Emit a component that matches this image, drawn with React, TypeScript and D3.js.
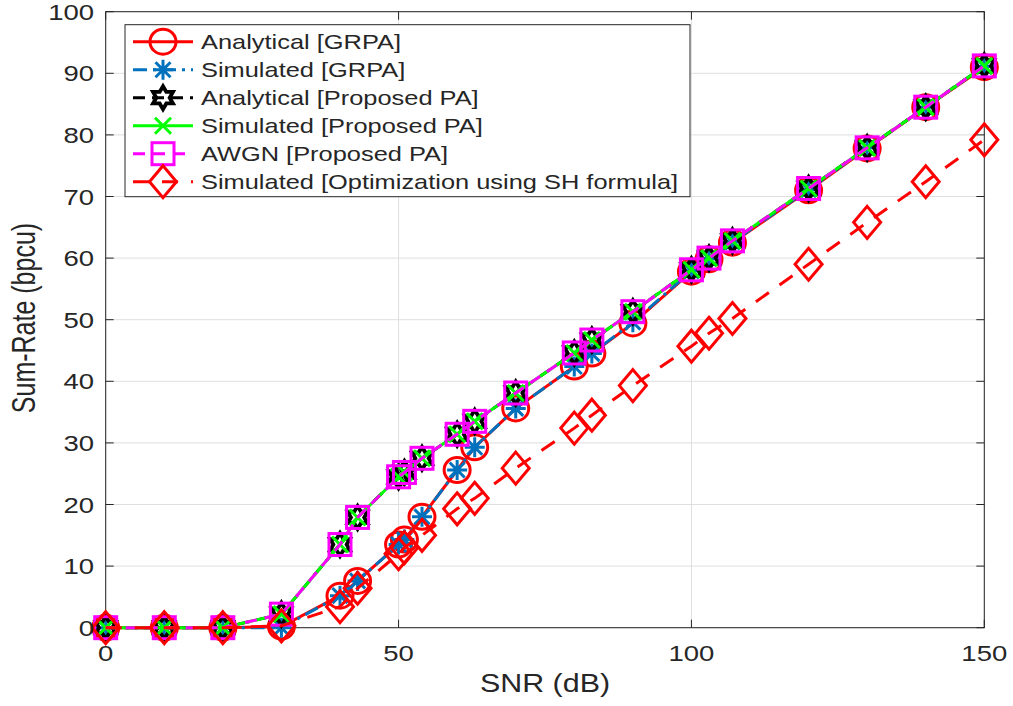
import React from "react";
import * as d3 from "d3";

const SNR = [0, 10, 20, 30, 40, 43, 50, 51, 54, 60, 63, 70, 80, 83, 90, 100, 103, 107, 120, 130, 140, 150];
const GRPA_ANALYTICAL = [0, 0, 0, 0.2, 5.2, 7.6, 13.5, 14.3, 18, 25.6, 29.3, 35.6, 42.4, 44.5, 49.4, 57.8, 59.8, 62.5, 71, 77.8, 84.5, 91];
const GRPA_SIMULATED = [0, 0, 0, 0, 5.2, 7.6, 13.5, 14.3, 18, 25.6, 29.3, 35.6, 42.4, 44.5, 49.6, 57.9, 59.9, 62.6, 71.1, 77.9, 84.5, 91.1];
const PROPOSED_ANALYTICAL = [0, 0, 0, 2.2, 13.5, 17.9, 24.5, 25.2, 27.5, 31.4, 33.5, 38.1, 44.6, 46.7, 51.3, 58.1, 60, 62.8, 71.3, 77.9, 84.5, 91.2];
const PROPOSED_SIMULATED = [0, 0, 0, 2.2, 13.5, 17.9, 24.5, 25.2, 27.5, 31.4, 33.5, 38.1, 44.6, 46.7, 51.3, 58.1, 60, 62.8, 71.3, 77.9, 84.5, 91.2];
const AWGN_PROPOSED = [0, 0, 0, 2.2, 13.5, 17.9, 24.5, 25.2, 27.5, 31.4, 33.5, 38.1, 44.6, 46.7, 51.3, 58.1, 60, 62.8, 71.3, 77.9, 84.5, 91.2];
const SH_OPTIMIZATION = [0, 0, 0, 0.3, 3.4, 6.4, 12, 13, 15, 19.3, 21, 25.9, 32.4, 34.5, 39.3, 45.7, 47.8, 50.2, 59, 65.8, 72.4, 79.2];

const X_TICKS = [0, 50, 100, 150];
const Y_TICKS = [0, 10, 20, 30, 40, 50, 60, 70, 80, 90, 100];
const LEGEND_LABELS = [
  "Analytical [GRPA]",
  "Simulated [GRPA]",
  "Analytical [Proposed PA]",
  "Simulated [Proposed PA]",
  "AWGN [Proposed PA]",
  "Simulated [Optimization using SH formula]",
];

const W = 1013;
const H = 706;
const M = { left: 105.7, right: 984.3, top: 11.7, bottom: 627.7 };
const FONT = "'Liberation Sans', Arial, Helvetica, sans-serif";
const AX = "#262626";

type MarkerKind = "circle" | "asterisk" | "hexagram" | "x" | "square" | "diamond";

interface Series {
  label: string;
  values: number[];
  color: string;
  dash: string | null;
  marker: MarkerKind;
}

const SERIES: Series[] = [
  { label: LEGEND_LABELS[0], values: GRPA_ANALYTICAL, color: "#ff0000", dash: null, marker: "circle" },
  { label: LEGEND_LABELS[1], values: GRPA_SIMULATED, color: "#0072bd", dash: "14,6,3,6", marker: "asterisk" },
  { label: LEGEND_LABELS[2], values: PROPOSED_ANALYTICAL, color: "#000000", dash: "12,7", marker: "hexagram" },
  { label: LEGEND_LABELS[3], values: PROPOSED_SIMULATED, color: "#00ff00", dash: null, marker: "x" },
  { label: LEGEND_LABELS[4], values: AWGN_PROPOSED, color: "#ff00ff", dash: "12,8", marker: "square" },
  { label: LEGEND_LABELS[5], values: SH_OPTIMIZATION, color: "#ff0000", dash: "16,13", marker: "diamond" },
];

function Marker({ kind, x, y, color }: { kind: MarkerKind; x: number; y: number; color: string }) {
  const sw = 3;
  if (kind === "circle") {
    return <ellipse cx={x} cy={y} rx={13} ry={12.5} fill="none" stroke={color} strokeWidth={sw} />;
  }
  if (kind === "asterisk") {
    const r = 10;
    const d = r * 0.75;
    return (
      <path
        d={`M${x - r},${y}L${x + r},${y}M${x},${y - r}L${x},${y + r}M${x - d},${y - d}L${x + d},${y + d}M${x - d},${y + d}L${x + d},${y - d}`}
        stroke={color}
        strokeWidth={sw}
        fill="none"
      />
    );
  }
  if (kind === "hexagram") {
    const R = 11.5;
    const r = R / Math.sqrt(3);
    const pts: string[] = [];
    for (let i = 0; i < 12; i++) {
      const a = (Math.PI / 6) * i - Math.PI / 2;
      const rr = i % 2 === 0 ? R : r;
      pts.push(`${x + rr * Math.cos(a)},${y + rr * Math.sin(a)}`);
    }
    return <polygon points={pts.join(" ")} fill="none" stroke={color} strokeWidth={3.8} strokeLinejoin="miter" />;
  }
  if (kind === "x") {
    const r = 8;
    return (
      <path
        d={`M${x - r},${y - r}L${x + r},${y + r}M${x - r},${y + r}L${x + r},${y - r}`}
        stroke={color}
        strokeWidth={sw}
        fill="none"
      />
    );
  }
  if (kind === "square") {
    const s = 11;
    return <rect x={x - s} y={y - s} width={2 * s} height={2 * s} fill="none" stroke={color} strokeWidth={sw} />;
  }
  const hw = 13.5;
  const hh = 16;
  return (
    <path
      d={`M${x},${y - hh}L${x + hw},${y}L${x},${y + hh}L${x - hw},${y}Z`}
      fill="none"
      stroke={color}
      strokeWidth={sw}
    />
  );
}

function T({
  x,
  y,
  anchor = "start",
  size = 22,
  sx = 1.25,
  rotate = 0,
  children,
}: {
  x: number;
  y: number;
  anchor?: string;
  size?: number;
  sx?: number;
  rotate?: number;
  children: React.ReactNode;
}) {
  return (
    <text
      transform={`translate(${x},${y}) scale(${sx},1)${rotate ? ` rotate(${rotate})` : ""}`}
      textAnchor={anchor}
      fontSize={size}
      fontFamily={FONT}
      fill={AX}
    >
      {children}
    </text>
  );
}

export default function App() {
  const x = d3.scaleLinear().domain([0, 150]).range([M.left, M.right]);
  const y = d3.scaleLinear().domain([0, 100]).range([M.bottom, M.top]);
  const tickLen = 8;

  const lineGen = (vals: number[]) =>
    d3
      .line<number>()
      .x((_, i) => x(SNR[i]))
      .y((v) => y(v))(vals) || "";

  const legend = { x: 125, y: 24.7, w: 565, h: 172, row0: 41.7, rowStep: 28 };

  return (
    <svg width={W} height={H} style={{ position: "absolute", left: 0, top: 0, background: "#fff" }}>
      <rect x={0} y={0} width={W} height={H} fill="#fff" />
      {X_TICKS.map((t) => (
        <line key={"gx" + t} x1={x(t)} x2={x(t)} y1={M.top} y2={M.bottom} stroke="#dfdfdf" strokeWidth={1} />
      ))}
      {Y_TICKS.map((t) => (
        <line key={"gy" + t} x1={M.left} x2={M.right} y1={y(t)} y2={y(t)} stroke="#dfdfdf" strokeWidth={1} />
      ))}
      <rect x={M.left} y={M.top} width={M.right - M.left} height={M.bottom - M.top} fill="none" stroke={AX} strokeWidth={1} />
      {X_TICKS.map((t) => (
        <g key={"tx" + t}>
          <line x1={x(t)} x2={x(t)} y1={M.bottom} y2={M.bottom - tickLen} stroke={AX} />
          <line x1={x(t)} x2={x(t)} y1={M.top} y2={M.top + tickLen} stroke={AX} />
        </g>
      ))}
      {Y_TICKS.map((t) => (
        <g key={"ty" + t}>
          <line x1={M.left} x2={M.left + tickLen} y1={y(t)} y2={y(t)} stroke={AX} />
          <line x1={M.right} x2={M.right - tickLen} y1={y(t)} y2={y(t)} stroke={AX} />
        </g>
      ))}
      {SERIES.map((s, si) => (
        <g key={"s" + si}>
          <path
            d={lineGen(s.values)}
            fill="none"
            stroke={s.color}
            strokeWidth={3}
            strokeDasharray={s.dash || undefined}
          />
          {s.values.map((v, i) => (
            <Marker key={i} kind={s.marker} x={x(SNR[i])} y={y(v)} color={s.color} />
          ))}
        </g>
      ))}
      {X_TICKS.map((t) => (
        <T key={"lx" + t} x={x(t)} y={661} anchor="middle">
          {t}
        </T>
      ))}
      {Y_TICKS.map((t) => (
        <T key={"ly" + t} x={94} y={y(t) + 8} anchor="end">
          {t}
        </T>
      ))}
      <T x={(M.left + M.right) / 2} y={692} anchor="middle" size={26} sx={1.17}>
        SNR (dB)
      </T>
      <T x={35} y={318} anchor="middle" size={25} sx={1.3} rotate={-90}>
        Sum-Rate (bpcu)
      </T>
      <rect x={legend.x} y={legend.y} width={legend.w} height={legend.h} fill="#fff" stroke={AX} strokeWidth={1} />
      {SERIES.map((s, i) => {
        const cy = legend.row0 + i * legend.rowStep;
        return (
          <g key={"lg" + i}>
            <line
              x1={133}
              x2={193}
              y1={cy}
              y2={cy}
              stroke={s.color}
              strokeWidth={3}
              strokeDasharray={s.dash || undefined}
            />
            <Marker kind={s.marker} x={163} y={cy} color={s.color} />
            <T x={201} y={cy + 7.5} size={21} sx={1.21}>
              {s.label}
            </T>
          </g>
        );
      })}
    </svg>
  );
}
